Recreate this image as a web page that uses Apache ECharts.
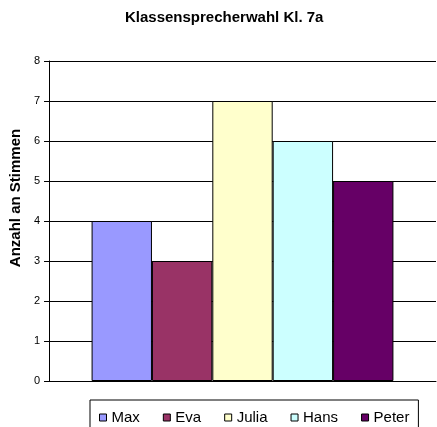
<!DOCTYPE html>
<html>
<head>
<meta charset="utf-8">
<script src="https://cdn.jsdelivr.net/npm/echarts@6/dist/echarts.min.js"></script>
<style>
  html, body { margin: 0; padding: 0; background: #fff; }
  #chart { width: 437px; height: 427px; }
</style>
</head>
<body>
<div id="chart"></div>
<script>
// Daten der Klassensprecherwahl
var names = ['Max', 'Eva', 'Julia', 'Hans', 'Peter'];
var votes = [4, 3, 7, 6, 5];
var colors = ['#9999FF', '#993366', '#FFFFCC', '#CCFFFF', '#660066'];

var chart = echarts.init(document.getElementById('chart'));

// jede Person ist eine eigene Reihe, damit die Legende passt
var series = names.map(function (n, i) {
    return {
        name: n,
        type: 'bar',
        data: [votes[i]],
        barGap: '0%',
        barCategoryGap: '22%',
        itemStyle: { color: colors[i], borderColor: '#000', borderWidth: 1 }
    };
});

var option = {
    animation: false,
    backgroundColor: '#fff',
    textStyle: { fontFamily: 'Liberation Sans' },
    title: {
        text: 'Klassensprecherwahl Kl. 7a',
        left: 125,
        top: 10,
        padding: 0,
        textStyle: { fontSize: 15, fontWeight: 'bold', color: '#000' }
    },
    legend: {
        data: names,
        left: 90,
        top: 400,
        padding: [10, 9, 10, 9],
        borderColor: '#000',
        borderWidth: 1,
        itemWidth: 7,
        itemHeight: 7,
        itemGap: 23,
        icon: 'rect',
        itemStyle: { borderColor: '#000', borderWidth: 1 },
        textStyle: { fontSize: 15, color: '#000' }
    },
    grid: { left: 46, right: 1, top: 61, bottom: 46, containLabel: false },
    xAxis: {
        type: 'category',
        data: [''],
        axisLine: { lineStyle: { color: '#000', width: 1 } },
        axisTick: { show: false },
        axisLabel: { show: false }
    },
    yAxis: {
        type: 'value',
        min: 0,
        max: 8,
        interval: 1,
        name: 'Anzahl an Stimmen',
        nameLocation: 'middle',
        nameRotate: 90,
        nameGap: 15,
        nameTextStyle: { fontSize: 15, fontWeight: 'bold', color: '#000', padding: [0, 0, 0, 46] },
        axisLine: { show: true, lineStyle: { color: '#000' } },
        axisTick: { show: true, length: 5, lineStyle: { color: '#000' } },
        axisLabel: { fontSize: 11, color: '#000', margin: 9 },
        splitLine: { lineStyle: { color: '#000', width: 1 } }
    },
    series: series
};

chart.setOption(option);
</script>
</body>
</html>
